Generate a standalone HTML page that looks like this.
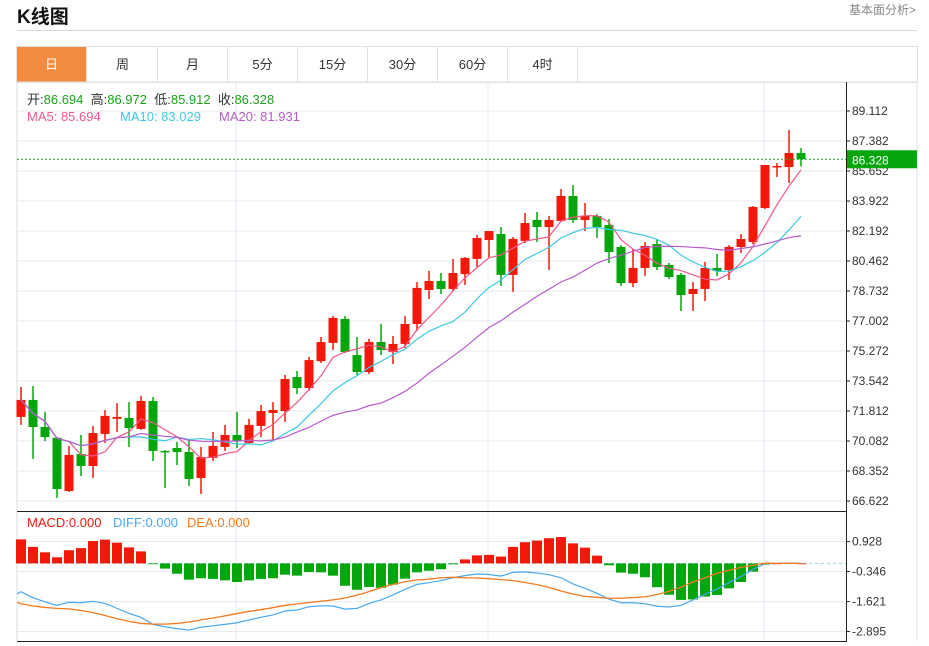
<!DOCTYPE html>
<html><head><meta charset="utf-8">
<style>
body{margin:0;width:929px;height:646px;background:#fff;overflow:hidden;font-family:"Liberation Sans","Noto Sans CJK SC",sans-serif;}
#title{position:absolute;left:17px;top:2px;font-size:19px;font-weight:bold;color:#111;}
#more{position:absolute;left:849px;top:1px;font-size:12px;color:#888;}
#hr{position:absolute;left:17px;top:30px;width:900px;height:1px;background:#d8d8d8;}
#tabs{position:absolute;left:16px;top:46px;width:900px;height:35px;border:1px solid #e2e2e2;}
.tab{position:absolute;top:0;width:70px;height:35px;line-height:35px;text-align:center;font-size:13px;color:#333;border-right:1px solid #e2e2e2;box-sizing:border-box;}
.tab.on{background:#f28b3f;color:#fff;}
svg{position:absolute;left:0;top:0;}
</style></head><body>
<div id="title">K线图</div>
<div id="more">基本面分析&gt;</div>
<div id="hr"></div>
<div id="tabs">
<div class="tab on" style="left:0">日</div>
<div class="tab" style="left:71px">周</div>
<div class="tab" style="left:141px">月</div>
<div class="tab" style="left:211px">5分</div>
<div class="tab" style="left:281px">15分</div>
<div class="tab" style="left:351px">30分</div>
<div class="tab" style="left:421px">60分</div>
<div class="tab" style="left:491px">4时</div>
</div>
<svg id="chart" width="929" height="646"></svg>
<script>
const opens=[71.47,72.45,70.89,70.27,67.20,69.33,68.64,70.49,71.36,71.41,70.78,72.39,69.51,69.68,69.45,67.95,69.10,69.74,70.43,69.97,70.95,71.70,71.81,73.77,73.14,74.69,75.74,77.12,75.04,74.06,75.79,75.21,75.68,76.83,78.79,79.31,78.85,79.71,80.58,81.67,82.02,79.66,81.62,82.83,82.42,82.77,84.21,82.83,83.06,82.54,81.27,79.19,80.06,81.44,80.23,79.66,78.56,78.85,80.06,79.94,81.27,81.56,83.52,85.88,85.88,86.694];
const highs=[73.20,73.25,71.76,70.31,69.80,70.43,70.95,71.87,72.27,72.33,72.68,72.62,69.56,70.03,70.14,69.74,70.60,71.01,71.76,71.36,72.16,72.33,73.89,74.12,74.93,76.08,77.29,77.29,76.08,75.97,76.83,76.14,77.29,79.25,79.89,79.77,80.58,80.69,81.96,82.19,82.42,81.85,83.23,83.29,83.06,84.61,84.84,83.81,83.17,82.88,81.38,81.15,81.56,81.73,80.35,79.77,79.25,80.41,80.87,81.38,82.02,83.63,86.00,86.11,88.02,86.972];
const lows=[71.01,69.05,70.08,66.80,67.14,68.06,67.95,69.97,70.60,69.74,70.72,68.93,67.37,68.70,67.49,67.03,68.93,69.51,69.68,69.91,70.31,70.14,71.18,72.79,72.97,74.58,75.33,75.16,73.89,73.94,75.04,74.52,75.45,76.42,78.27,78.56,78.73,79.08,80.12,80.64,79.02,78.68,81.50,81.56,79.94,82.71,82.65,82.19,81.79,80.35,79.02,78.96,79.60,79.94,79.42,77.58,77.58,78.15,79.60,79.37,80.92,81.44,83.46,85.31,84.96,85.912];
const closes=[72.45,70.89,70.31,67.31,69.28,68.64,70.54,71.53,71.47,70.83,72.39,69.51,69.45,69.45,67.89,69.16,69.80,70.43,70.08,71.01,71.81,71.87,73.66,73.14,74.75,75.79,77.18,75.21,74.06,75.79,75.33,75.68,76.83,78.91,79.31,78.85,79.77,80.64,81.79,82.19,79.66,81.73,82.65,82.42,82.83,84.21,82.83,83.06,82.42,80.98,79.19,80.06,81.33,80.12,79.54,78.50,78.85,80.06,79.89,81.27,81.73,83.58,86.00,85.94,86.69,86.328];
const diffs=[-1.20,-1.46,-1.63,-1.78,-1.65,-1.67,-1.61,-1.70,-1.91,-2.12,-2.29,-2.59,-2.69,-2.77,-2.83,-2.71,-2.65,-2.59,-2.52,-2.40,-2.29,-2.19,-2.02,-1.98,-1.84,-1.80,-1.81,-1.94,-1.91,-1.70,-1.55,-1.34,-1.10,-0.89,-0.82,-0.73,-0.61,-0.52,-0.45,-0.47,-0.54,-0.38,-0.36,-0.41,-0.48,-0.61,-0.87,-1.06,-1.27,-1.52,-1.67,-1.67,-1.71,-1.82,-1.85,-1.78,-1.55,-1.31,-1.09,-0.82,-0.56,-0.25,-0.01,0,0,0];
const deas=[-1.71,-1.81,-1.87,-1.91,-1.93,-2.00,-2.09,-2.21,-2.35,-2.46,-2.55,-2.58,-2.58,-2.55,-2.49,-2.40,-2.32,-2.23,-2.13,-2.04,-1.96,-1.88,-1.78,-1.72,-1.66,-1.61,-1.55,-1.47,-1.35,-1.20,-1.03,-0.89,-0.78,-0.70,-0.67,-0.61,-0.59,-0.61,-0.62,-0.65,-0.69,-0.73,-0.81,-0.90,-1.02,-1.17,-1.30,-1.40,-1.44,-1.48,-1.48,-1.45,-1.42,-1.32,-1.19,-1.01,-0.79,-0.61,-0.42,-0.29,-0.17,-0.08,0.01,0,0,0];
const macds=[1.02,0.70,0.47,0.26,0.56,0.65,0.95,1.01,0.88,0.68,0.51,-0.03,-0.22,-0.44,-0.69,-0.63,-0.66,-0.72,-0.79,-0.72,-0.66,-0.63,-0.48,-0.52,-0.37,-0.38,-0.52,-0.95,-1.12,-1.00,-1.04,-0.90,-0.65,-0.38,-0.31,-0.25,-0.04,0.17,0.34,0.36,0.29,0.70,0.90,0.97,1.07,1.12,0.85,0.67,0.33,-0.08,-0.39,-0.44,-0.59,-1.01,-1.33,-1.55,-1.53,-1.41,-1.34,-1.06,-0.79,-0.35,-0.05,0,0.03,0];
const priceTicks=[89.112,87.382,85.652,83.922,82.192,80.462,78.732,77.002,75.272,73.542,71.812,70.082,68.352,66.622];
const macdTicks=[0.928,-0.346,-1.621,-2.895];
const lastPrice=86.328;

const NS="http://www.w3.org/2000/svg";
const svg=document.getElementById('chart');
function mk(tag,attrs,parent){const e=document.createElementNS(NS,tag);for(const k in attrs)e.setAttribute(k,attrs[k]);(parent||svg).appendChild(e);return e;}
const L=17,R=846;
const yP=p=>111+(89.112-p)/1.73*30;
const yM=v=>563.4-v*23.55;
const xI=i=>21+12*i;
const RED="#f2190a",GREEN="#04a50d";

// frame & grid
let g=mk('g',{});


priceTicks.forEach(t=>{mk('line',{x1:L,x2:R,y1:yP(t),y2:yP(t),stroke:'#e3eaf1','stroke-width':1},g);});
macdTicks.forEach(t=>{mk('line',{x1:L,x2:R,y1:yM(t),y2:yM(t),stroke:'#e3eaf1','stroke-width':1},g);});
[236,488,764].forEach(x=>{mk('line',{x1:x,x2:x,y1:82,y2:641,stroke:'#e3eaf1','stroke-width':1},g);});
mk('line',{x1:L,x2:L,y1:82,y2:641,stroke:'#ddd'},g);
mk('line',{x1:L,x2:917,y1:82,y2:82,stroke:'#e2e2e2'},g);
mk('line',{x1:917,x2:917,y1:82,y2:641,stroke:'#e2e2e2'},g);
mk('line',{x1:L,x2:R,y1:511.5,y2:511.5,stroke:'#222'},g);
mk('line',{x1:L,x2:R,y1:641.5,y2:641.5,stroke:'#222'},g);
mk('line',{x1:R+0.5,x2:R+0.5,y1:82,y2:642,stroke:'#222'},g);

// y axis labels
priceTicks.forEach(t=>{
  mk('line',{x1:R,x2:R+4,y1:yP(t),y2:yP(t),stroke:'#222'});
  const tx=mk('text',{x:852,y:yP(t)+4,'font-size':12,fill:'#333'});tx.textContent=t.toFixed(3);
  
  
});
macdTicks.forEach(t=>{
  mk('line',{x1:R,x2:R+4,y1:yM(t),y2:yM(t),stroke:'#222'});
  const tx=mk('text',{x:852,y:yM(t)+4,'font-size':12,fill:'#333'});tx.textContent=t.toFixed(3);
  
  
});

// candles
closes.forEach((c,i)=>{
  const o=opens[i],up=c>=o,col=up?RED:GREEN,x=xI(i);
  const cg=mk('g',{});
  
  
  mk('line',{x1:x,x2:x,y1:yP(highs[i]),y2:yP(lows[i]),stroke:col,'stroke-width':1.5},cg);
  const t=yP(Math.max(o,c)),b=yP(Math.min(o,c));
  mk('rect',{x:x-4.5,y:t,width:9,height:Math.max(b-t,1.5),fill:col},cg);
});

// moving averages
function ma(n){return closes.map((c,i)=>{const s=closes.slice(Math.max(0,i-n+1),i+1);return s.reduce((a,b)=>a+b,0)/s.length;});}
[[5,'#f0578a','ma5-line'],[10,'#3ec9e0','ma10-line'],[20,'#b55ccb','ma20-line']].forEach(([n,col,name])=>{
  const m=ma(n);
  const pl=mk('polyline',{points:m.map((v,i)=>xI(i)+','+yP(v)).join(' '),fill:'none',stroke:col,'stroke-width':1.2});
  
  
});

// last price line
mk('line',{x1:L,x2:R,y1:yP(lastPrice),y2:yP(lastPrice),stroke:'#1aa61a','stroke-dasharray':'2,2'});
const lb=mk('rect',{x:847,y:yP(lastPrice)-9,width:70,height:18,fill:'#04a50d'});


const lt=mk('text',{x:852,y:yP(lastPrice)+5,'font-size':12,fill:'#fff'});lt.textContent=lastPrice.toFixed(3);

// macd
mk('line',{x1:L,x2:R,y1:yM(0),y2:yM(0),stroke:'#9fd3e6','stroke-dasharray':'3,3'});
macds.forEach((v,i)=>{
  const x=xI(i),y0=yM(0),y1=yM(v);
  const r=mk('rect',{x:x-5,y:Math.min(y0,y1),width:10,height:Math.max(Math.abs(y1-y0),0.8),fill:v>=0?RED:GREEN});
  
  
});
const dl=mk('polyline',{points:diffs.map((v,i)=>xI(i)+','+yM(v)).join(' '),fill:'none',stroke:'#4aa8f0','stroke-width':1.2});


const el=mk('polyline',{points:deas.map((v,i)=>xI(i)+','+yM(v)).join(' '),fill:'none',stroke:'#f47a20','stroke-width':1.3});


mk('polyline',{points:L+','+yM(diffs[0]-0.1)+' '+xI(0)+','+yM(diffs[0]),fill:'none',stroke:'#4aa8f0','stroke-width':1.2});
mk('polyline',{points:L+','+yM(deas[0]+0.05)+' '+xI(0)+','+yM(deas[0]),fill:'none',stroke:'#f47a20','stroke-width':1.3});

// legends
function txt(x,y,s,col,name){const t=mk('text',{x:x,y:y,'font-size':13,fill:col});t.textContent=s;return t;}
const ohlc=mk('text',{x:27,y:104,'font-size':13,fill:'#333'});


[['开:','#333'],['86.694','#19a319'],['  高:','#333'],['86.972','#19a319'],['  低:','#333'],['85.912','#19a319'],['  收:','#333'],['86.328','#19a319']].forEach(([s,c])=>{const sp=mk('tspan',{fill:c},ohlc);sp.textContent=s;});
ohlc.setAttribute('xml:space','preserve');ohlc.style.whiteSpace='pre';
txt(27,121,'MA5: 85.694','#f0578a','ma5-legend');
txt(120,121,'MA10: 83.029','#3ec9e0','ma10-legend');
txt(219,121,'MA20: 81.931','#b55ccb','ma20-legend');
txt(27,527,'MACD:0.000','#f2190a','macd-legend');
txt(113,527,'DIFF:0.000','#4aa8f0','diff-legend');
txt(187,527,'DEA:0.000','#f47a20','dea-legend');
</script>
</body></html>
